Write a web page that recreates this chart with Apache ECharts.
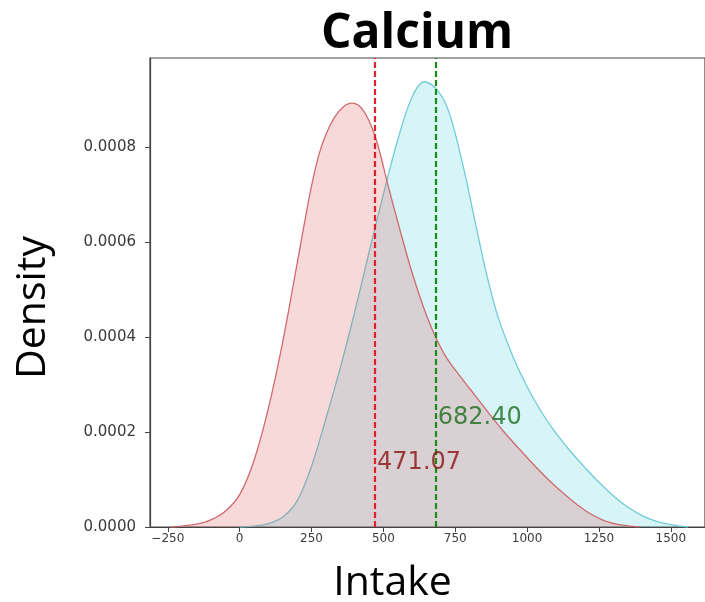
<!DOCTYPE html>
<html>
<head>
<meta charset="utf-8">
<script src="https://cdn.jsdelivr.net/npm/echarts@6/dist/echarts.min.js"></script>
<style>
html,body{margin:0;padding:0;background:#fff;}
#chart{width:705px;height:602px;}
</style>
</head>
<body>
<div id="chart"></div>
<script>
// ---- data ----
const chartTitle = 'Calcium';
const xAxisTitle = 'Intake';
const yAxisTitle = 'Density';
const xTickValues = [-250, 0, 250, 500, 750, 1000, 1250, 1500];
const yTickValues = [0, 0.0002, 0.0004, 0.0006, 0.0008];

// red group KDE
const redIntake = [-240,-200,-150,-100,-50,0,50,100,150,200,230,250,275,300,330,360,390,420,450,480,520,560,600,640,680,720,770,820,870,920,970,1020,1070,1120,1170,1220,1270,1320,1390];
const redDensity = [0,0.000002,0.000006,0.000015,0.000033,0.000068,0.00014,0.00025,0.00039,0.000555,0.000655,0.000718,0.000782,0.000826,0.000862,0.000884,0.000892,0.000884,0.000855,0.000805,0.00071,0.00062,0.000535,0.000462,0.000402,0.000356,0.000315,0.000276,0.000237,0.0002,0.000166,0.000133,0.000102,0.000074,0.000049,0.000028,0.000013,0.000005,0];

// cyan group KDE
const cyanIntake = [0,50,100,150,200,250,300,350,400,450,500,550,600,643,690,730,780,820,860,900,950,1000,1050,1100,1150,1200,1250,1300,1350,1400,1450,1500,1560];
const cyanDensity = [0,0.000002,0.000007,0.000021,0.000055,0.000128,0.000228,0.000335,0.000452,0.000578,0.0007,0.000815,0.000905,0.000937,0.000918,0.00087,0.000753,0.00064,0.00053,0.00044,0.00036,0.000295,0.000242,0.000198,0.00016,0.000126,0.000094,0.000066,0.000042,0.000024,0.000012,0.000005,0];

// mean markers
const redMean = 471.07;
const cyanMean = 682.40;
const redMeanLabelY = 0.000135;
const cyanMeanLabelY = 0.00023;

const chart = echarts.init(document.getElementById('chart'), null, {renderer: 'canvas'});

const zip = (xs, ys) => xs.map((x, i) => [x, ys[i]]);
const axisColor = '#444';

const option = {
  backgroundColor: '#fff',
  animation: false,
  title: {
    text: chartTitle,
    left: 321,
    top: 10,
    padding: 0,
    textStyle: {fontFamily: 'Open Sans', fontWeight: 'bold', fontSize: 48, color: '#000'}
  },
  grid: {left: 150, right: -5, top: 58, bottom: 75, show: true, borderColor: axisColor, borderWidth: 1.2, backgroundColor: 'transparent'},
  xAxis: {
    type: 'value',
    min: -312,
    max: 1619,
    splitLine: {show: false},
    axisLine: {show: true, onZero: false, lineStyle: {color: axisColor, width: 1.2}},
    axisTick: {show: true, length: 5, customValues: xTickValues, lineStyle: {color: axisColor}},
    axisLabel: {
      customValues: xTickValues,
      margin: 6,
      fontFamily: 'DejaVu Sans',
      fontSize: 12,
      color: '#3a3a3a',
      formatter: v => (v < 0 ? '\u2212' + Math.abs(v) : String(v))
    }
  },
  yAxis: {
    type: 'value',
    min: 0,
    max: 0.000987,
    splitLine: {show: false},
    axisLine: {show: true, onZero: false, lineStyle: {color: axisColor, width: 1.2}},
    axisTick: {show: true, length: 5, customValues: yTickValues, lineStyle: {color: axisColor}},
    axisLabel: {
      customValues: yTickValues,
      margin: 14,
      fontFamily: 'DejaVu Sans',
      fontSize: 15,
      color: '#3a3a3a',
      formatter: v => v.toFixed(4)
    }
  },
  graphic: [
    {type: 'text', x: 392.5, y: 583.5, style: {text: xAxisTitle, font: '41px "Open Sans"', fill: '#000', align: 'center', verticalAlign: 'middle'}},
    {type: 'text', x: 33, y: 307.5, rotation: Math.PI / 2, style: {text: yAxisTitle, font: '41px "Open Sans"', fill: '#000', align: 'center', verticalAlign: 'middle'}}
  ],
  series: [
    {
      name: 'cyan',
      type: 'line',
      data: zip(cyanIntake, cyanDensity),
      smooth: 0.35,
      symbol: 'none',
      lineStyle: {color: '#6fcdd6', width: 1.3},
      areaStyle: {color: 'rgba(30,190,210,0.25)'},
      z: 2,
      markLine: {
        silent: true,
        symbol: 'none',
        label: {show: false},
        lineStyle: {color: '#1a8a1a', type: [6, 3], width: 2.2},
        data: [{xAxis: cyanMean}]
      }
    },
    {
      name: 'red',
      type: 'line',
      data: zip(redIntake, redDensity),
      smooth: 0.35,
      symbol: 'none',
      lineStyle: {color: '#d06a70', width: 1.3},
      areaStyle: {color: 'rgba(220,60,60,0.28)'},
      z: 3,
      markLine: {
        silent: true,
        symbol: 'none',
        label: {show: false},
        lineStyle: {color: '#e0202a', type: [6, 3], width: 2.2},
        data: [{xAxis: redMean}]
      }
    },
    {
      type: 'scatter',
      symbolSize: 0,
      z: 5,
      data: [[redMean, redMeanLabelY]],
      label: {show: true, position: 'right', distance: 2, formatter: redMean.toFixed(2), fontFamily: 'DejaVu Sans', fontSize: 24, color: '#8b1010'}
    },
    {
      type: 'scatter',
      symbolSize: 0,
      z: 5,
      data: [[cyanMean, cyanMeanLabelY]],
      label: {show: true, position: 'right', distance: 2, formatter: cyanMean.toFixed(2), fontFamily: 'DejaVu Sans', fontSize: 24, color: '#1c6e1c'}
    }
  ]
};
chart.setOption(option);
</script>
</body>
</html>
